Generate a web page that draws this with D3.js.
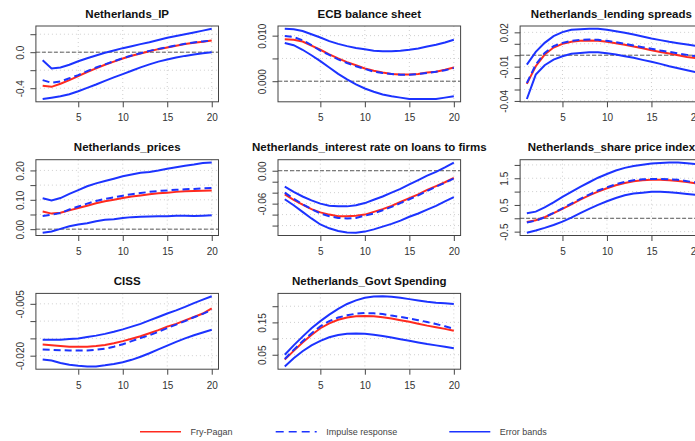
<!DOCTYPE html>
<html>
<head>
<meta charset="utf-8">
<script src="https://cdn.jsdelivr.net/npm/d3@7"></script>
<style>
  html, body { margin: 0; padding: 0; background: #fff; }
  svg { display: block; font-family: "Liberation Sans", Arial, Helvetica, sans-serif; }
</style>
</head>
<body>
<svg id="chart" width="695" height="441"></svg>
<script>
// Impulse responses over a 20-period horizon for a shock to the ECB balance sheet.
const horizons = d3.range(1, 21);
const xTicks = [5, 10, 15, 20];

const panelTitles = [
  "Netherlands_IP",
  "ECB balance sheet",
  "Netherlands_lending spreads",
  "Netherlands_prices",
  "Netherlands_interest rate on loans to firms",
  "Netherlands_share price index",
  "CISS",
  "Netherlands_Govt Spending"
];

// Netherlands_IP
const ipUpper = [-0.09,-0.18,-0.17,-0.14,-0.10,-0.067,-0.037,-0.007,0.019,0.045,0.067,0.09,0.11,0.135,0.16,0.18,0.20,0.22,0.24,0.26];
const ipIrf   = [-0.31,-0.34,-0.325,-0.29,-0.255,-0.21,-0.17,-0.135,-0.10,-0.067,-0.037,-0.011,0.015,0.037,0.056,0.075,0.093,0.108,0.12,0.13];
const ipFry   = [-0.374,-0.385,-0.35,-0.31,-0.265,-0.22,-0.18,-0.14,-0.105,-0.07,-0.04,-0.015,0.011,0.034,0.052,0.071,0.09,0.105,0.116,0.13];
const ipLower = [-0.52,-0.505,-0.49,-0.467,-0.434,-0.396,-0.359,-0.318,-0.28,-0.243,-0.206,-0.168,-0.135,-0.105,-0.082,-0.06,-0.041,-0.026,-0.011,0.0];

// ECB balance sheet
const ecbUpper = [0.0115,0.0114,0.011,0.0103,0.0096,0.0088,0.0082,0.0077,0.0073,0.007,0.0067,0.0066,0.0066,0.0067,0.0069,0.0072,0.0076,0.008,0.0085,0.0091];
const ecbIrf   = [0.0099,0.0097,0.009,0.0079,0.0067,0.0058,0.0048,0.004,0.0033,0.0027,0.0021,0.0018,0.0016,0.0014,0.0014,0.0016,0.0018,0.0021,0.0024,0.0029];
const ecbFry   = [0.0092,0.0091,0.0087,0.0078,0.0069,0.0059,0.005,0.0042,0.0035,0.0028,0.0023,0.0019,0.0016,0.0015,0.0015,0.0016,0.0019,0.0021,0.0025,0.003];
const ecbLower = [0.0084,0.0079,0.0069,0.0057,0.0044,0.003,0.0016,0.0004,-0.0007,-0.0016,-0.0023,-0.0029,-0.0033,-0.0036,-0.0039,-0.0039,-0.0039,-0.0039,-0.0036,-0.0033];

// Netherlands_lending spreads
const lsUpper = [-0.0082,0.0029,0.0108,0.0167,0.0202,0.0222,0.0228,0.0231,0.0231,0.0222,0.021,0.0196,0.0181,0.0164,0.0146,0.0132,0.0117,0.0105,0.0094,0.0082];
const lsIrf   = [-0.0243,-0.0082,0.002,0.0079,0.0108,0.0126,0.0135,0.0137,0.0135,0.0126,0.0114,0.0099,0.0085,0.007,0.0056,0.0041,0.0029,0.0015,0.0003,-0.0009];
const lsFry   = [-0.0251,-0.0096,0.0006,0.0067,0.0099,0.0117,0.0126,0.0129,0.0126,0.0117,0.0105,0.0091,0.0076,0.0061,0.0044,0.0029,0.0015,0.0,-0.0015,-0.0026];
const lsLower = [-0.0383,-0.017,-0.0088,-0.0038,-0.0009,0.0012,0.002,0.0026,0.0026,0.0018,0.0006,-0.0009,-0.0023,-0.0041,-0.0058,-0.0076,-0.0096,-0.0114,-0.0132,-0.0149];

// Netherlands_prices
const prUpper = [0.105,0.098,0.106,0.12,0.133,0.146,0.156,0.164,0.172,0.18,0.186,0.192,0.195,0.2,0.206,0.211,0.216,0.22,0.225,0.227];
const prIrf   = [0.045,0.049,0.055,0.067,0.077,0.087,0.096,0.103,0.108,0.114,0.119,0.123,0.127,0.13,0.132,0.134,0.136,0.137,0.139,0.14];
const prFry   = [0.06,0.053,0.056,0.064,0.072,0.08,0.088,0.095,0.1,0.106,0.111,0.115,0.119,0.122,0.124,0.127,0.129,0.13,0.131,0.132];
const prLower = [-0.012,-0.008,0.001,0.01,0.016,0.02,0.027,0.032,0.034,0.038,0.041,0.042,0.043,0.044,0.044,0.046,0.046,0.045,0.046,0.047];

// Netherlands_interest rate on loans to firms
const irUpper = [-0.029,-0.0385,-0.047,-0.054,-0.06,-0.064,-0.065,-0.065,-0.063,-0.059,-0.053,-0.047,-0.04,-0.033,-0.025,-0.017,-0.009,-0.002,0.006,0.015];
const irIrf   = [-0.04,-0.051,-0.061,-0.07,-0.078,-0.083,-0.086,-0.087,-0.086,-0.082,-0.078,-0.072,-0.066,-0.059,-0.052,-0.045,-0.037,-0.029,-0.022,-0.014];
const irFry   = [-0.043,-0.053,-0.062,-0.07,-0.076,-0.08,-0.083,-0.083,-0.082,-0.08,-0.075,-0.07,-0.064,-0.057,-0.05,-0.043,-0.035,-0.028,-0.021,-0.013];
const irLower = [-0.052,-0.063,-0.075,-0.087,-0.098,-0.105,-0.11,-0.1125,-0.113,-0.111,-0.107,-0.102,-0.097,-0.091,-0.084,-0.078,-0.071,-0.064,-0.056,-0.048];

// Netherlands_share price index
const spUpper = [0.19,0.25,0.41,0.6,0.8,0.99,1.18,1.35,1.52,1.66,1.79,1.89,1.96,2.01,2.05,2.07,2.09,2.09,2.06,2.03];
const spIrf   = [-0.16,-0.09,0.04,0.2,0.375,0.55,0.725,0.89,1.04,1.16,1.275,1.36,1.425,1.46,1.475,1.475,1.46,1.44,1.39,1.34];
const spFry   = [-0.14,-0.075,0.04,0.19,0.35,0.525,0.7,0.86,1.0,1.125,1.24,1.325,1.39,1.425,1.44,1.44,1.425,1.4,1.36,1.31];
const spLower = [-0.54,-0.46,-0.36,-0.25,-0.125,0.025,0.19,0.35,0.5,0.64,0.76,0.86,0.925,0.96,0.99,0.99,0.975,0.95,0.91,0.875];

// CISS
const ciUpper = [-0.0154,-0.0154,-0.0154,-0.0152,-0.015,-0.0146,-0.0142,-0.0137,-0.0131,-0.0124,-0.0116,-0.0108,-0.0098,-0.0088,-0.0078,-0.0069,-0.0059,-0.0048,-0.0038,-0.0028];
const ciIrf   = [-0.0182,-0.0183,-0.0184,-0.0185,-0.0185,-0.0185,-0.0183,-0.018,-0.0174,-0.0167,-0.0158,-0.0149,-0.0141,-0.0131,-0.012,-0.011,-0.01,-0.0089,-0.0079,-0.0068];
const ciFry   = [-0.0168,-0.017,-0.0172,-0.0174,-0.0174,-0.0174,-0.0172,-0.0169,-0.0164,-0.0158,-0.0151,-0.0144,-0.0135,-0.0126,-0.0116,-0.0108,-0.0098,-0.0088,-0.0078,-0.0063];
const ciLower = [-0.0211,-0.0214,-0.0221,-0.0226,-0.0229,-0.0231,-0.0231,-0.0228,-0.0224,-0.0219,-0.0212,-0.0203,-0.0193,-0.0182,-0.0171,-0.016,-0.015,-0.0141,-0.0133,-0.0125];

// Netherlands_Govt Spending
const gsUpper = [0.05,0.079,0.106,0.132,0.154,0.174,0.192,0.207,0.218,0.226,0.23,0.231,0.229,0.226,0.222,0.218,0.214,0.211,0.209,0.207];
const gsIrf   = [0.037,0.065,0.092,0.116,0.138,0.154,0.165,0.172,0.177,0.179,0.178,0.176,0.171,0.167,0.162,0.157,0.151,0.145,0.138,0.13];
const gsFry   = [0.035,0.062,0.088,0.111,0.132,0.147,0.158,0.165,0.169,0.17,0.169,0.166,0.162,0.157,0.152,0.146,0.14,0.135,0.13,0.124];
const gsLower = [0.014,0.039,0.061,0.079,0.093,0.104,0.111,0.115,0.116,0.115,0.112,0.108,0.103,0.098,0.093,0.088,0.083,0.079,0.075,0.07];

// Y-axis ticks per panel, the subset that carries a label, and label decimals
const yTicks = [
  [-0.4, -0.2, 0, 0.2],
  [0, 0.005, 0.01],
  [-0.04, -0.03, -0.02, -0.01, 0, 0.01, 0.02],
  [0, 0.05, 0.1, 0.15, 0.2],
  [-0.12, -0.1, -0.08, -0.06, -0.04, -0.02, 0],
  [-0.5, 0, 0.5, 1, 1.5, 2],
  [-0.02, -0.015, -0.01, -0.005],
  [0.05, 0.1, 0.15, 0.2]
];
const yLabelTicks = [
  [-0.4, 0],
  [0, 0.01],
  [-0.04, -0.01, 0.02],
  [0, 0.1, 0.2],
  [-0.12, -0.06, 0],
  [-0.5, 0.5, 1.5],
  [-0.02, -0.005],
  [0.05, 0.15]
];
const yDecimals = [1, 3, 2, 2, 2, 1, 3, 2];

const legendLabels = ["Fry-Pagan", "Impulse response", "Error bands"];

const panels = [
  [ipUpper, ipIrf, ipFry, ipLower],
  [ecbUpper, ecbIrf, ecbFry, ecbLower],
  [lsUpper, lsIrf, lsFry, lsLower],
  [prUpper, prIrf, prFry, prLower],
  [irUpper, irIrf, irFry, irLower],
  [spUpper, spIrf, spFry, spLower],
  [ciUpper, ciIrf, ciFry, ciLower],
  [gsUpper, gsIrf, gsFry, gsLower]
];

const BLUE = "#1c33ff";
const RED = "#ff2a1f";
const fmtLocale = d3.formatLocale({decimal: ".", thousands: ",", grouping: [3], currency: ["", ""], minus: "-"});

const svg = d3.select("#chart");
svg.append("rect").attr("width", 695).attr("height", 441).attr("fill", "#fff");

const boxW = 182.6, boxH = 75.8;
const colStep = 242.1, rowStep = 133.7;
const left0 = 35.9, top0 = 26;

panels.forEach((series, i) => {
  const col = i % 3, row = Math.floor(i / 3);
  const x0 = left0 + col * colStep, y0 = top0 + row * rowStep;
  const [upper, irf, fry, lower] = series;

  // 4% padding on both axes around the data range
  const x = d3.scaleLinear().domain([1 - 19 * 0.04, 20 + 19 * 0.04]).range([0, boxW]);
  const ext = d3.extent([].concat(upper, irf, fry, lower));
  const pad = (ext[1] - ext[0]) * 0.04;
  const y = d3.scaleLinear().domain([ext[0] - pad, ext[1] + pad]).range([boxH, 0]);

  const g = svg.append("g").attr("transform", `translate(${x0},${y0})`);

  // dotted grid
  g.append("g").selectAll("line").data(xTicks).join("line")
    .attr("x1", d => x(d)).attr("x2", d => x(d)).attr("y1", 0).attr("y2", boxH)
    .attr("stroke", "#cfcfcf").attr("stroke-width", 1).attr("stroke-dasharray", "1,3");
  g.append("g").selectAll("line").data(yTicks[i].filter(v => v >= y.domain()[0] && v <= y.domain()[1])).join("line")
    .attr("x1", 0).attr("x2", boxW).attr("y1", d => y(d)).attr("y2", d => y(d))
    .attr("stroke", "#cfcfcf").attr("stroke-width", 1).attr("stroke-dasharray", "1,3");

  // zero reference line
  if (y.domain()[0] < 0 && y.domain()[1] > 0) {
    g.append("line").attr("x1", 0).attr("x2", boxW).attr("y1", y(0)).attr("y2", y(0))
      .attr("stroke", "#5a5a5a").attr("stroke-width", 1).attr("stroke-dasharray", "4,2");
  }

  const line = d3.line().x((d, k) => x(horizons[k])).y(d => y(d));
  g.append("path").attr("d", line(upper)).attr("fill", "none").attr("stroke", BLUE).attr("stroke-width", 2);
  g.append("path").attr("d", line(lower)).attr("fill", "none").attr("stroke", BLUE).attr("stroke-width", 2);
  g.append("path").attr("d", line(fry)).attr("fill", "none").attr("stroke", RED).attr("stroke-width", 2);
  g.append("path").attr("d", line(irf)).attr("fill", "none").attr("stroke", BLUE).attr("stroke-width", 2)
    .attr("stroke-dasharray", "7,4");

  // frame
  g.append("rect").attr("x", 0).attr("y", 0).attr("width", boxW).attr("height", boxH)
    .attr("fill", "none").attr("stroke", "#444").attr("stroke-width", 1);

  // x axis
  const xAxis = g.append("g").attr("transform", `translate(0,${boxH})`)
    .call(d3.axisBottom(x).tickValues(xTicks).tickSize(5.5).tickPadding(7).tickFormat(d3.format("d")));
  xAxis.select(".domain").remove();
  xAxis.selectAll("line").attr("stroke", "#444");
  xAxis.selectAll("text").attr("font-size", 10).attr("fill", "#333")
    .attr("font-family", "Liberation Sans, Arial, sans-serif");

  // y axis with labels parallel to the axis
  const fmt = fmtLocale.format(`.${yDecimals[i]}f`);
  const labelled = new Set(yLabelTicks[i].map(v => v.toFixed(6)));
  const yAxis = g.append("g")
    .call(d3.axisLeft(y).tickValues(yTicks[i].filter(v => v >= y.domain()[0] && v <= y.domain()[1]))
      .tickSize(5.5).tickFormat(v => labelled.has(v.toFixed(6)) ? fmt(v) : ""));
  yAxis.select(".domain").remove();
  yAxis.selectAll("line").attr("stroke", "#444");
  yAxis.selectAll("text")
    .attr("transform", "rotate(-90)")
    .attr("x", 0).attr("y", -12).attr("dy", 0)
    .attr("text-anchor", "middle")
    .attr("font-size", 10).attr("fill", "#333")
    .attr("font-family", "Liberation Sans, Arial, sans-serif");

  // title
  g.append("text").attr("x", boxW / 2).attr("y", -8.5).attr("text-anchor", "middle")
    .attr("font-size", 11.5).attr("font-weight", "bold").attr("fill", "#111")
    .text(panelTitles[i]);
});

// legend
const legendItems = [
  {label: legendLabels[0], color: RED, dash: null, x: 140},
  {label: legendLabels[1], color: BLUE, dash: "8,5", x: 275.7},
  {label: legendLabels[2], color: BLUE, dash: null, x: 449.3}
];
const legend = svg.append("g").attr("transform", "translate(0,431.7)");
legendItems.forEach(it => {
  const ln = legend.append("line").attr("x1", it.x).attr("x2", it.x + 41).attr("y1", 0).attr("y2", 0)
    .attr("stroke", it.color).attr("stroke-width", 1.5);
  if (it.dash) ln.attr("stroke-dasharray", it.dash);
  legend.append("text").attr("x", it.x + 50.5).attr("y", 3.2)
    .attr("font-size", 9).attr("fill", "#444").text(it.label);
});
</script>
</body>
</html>
